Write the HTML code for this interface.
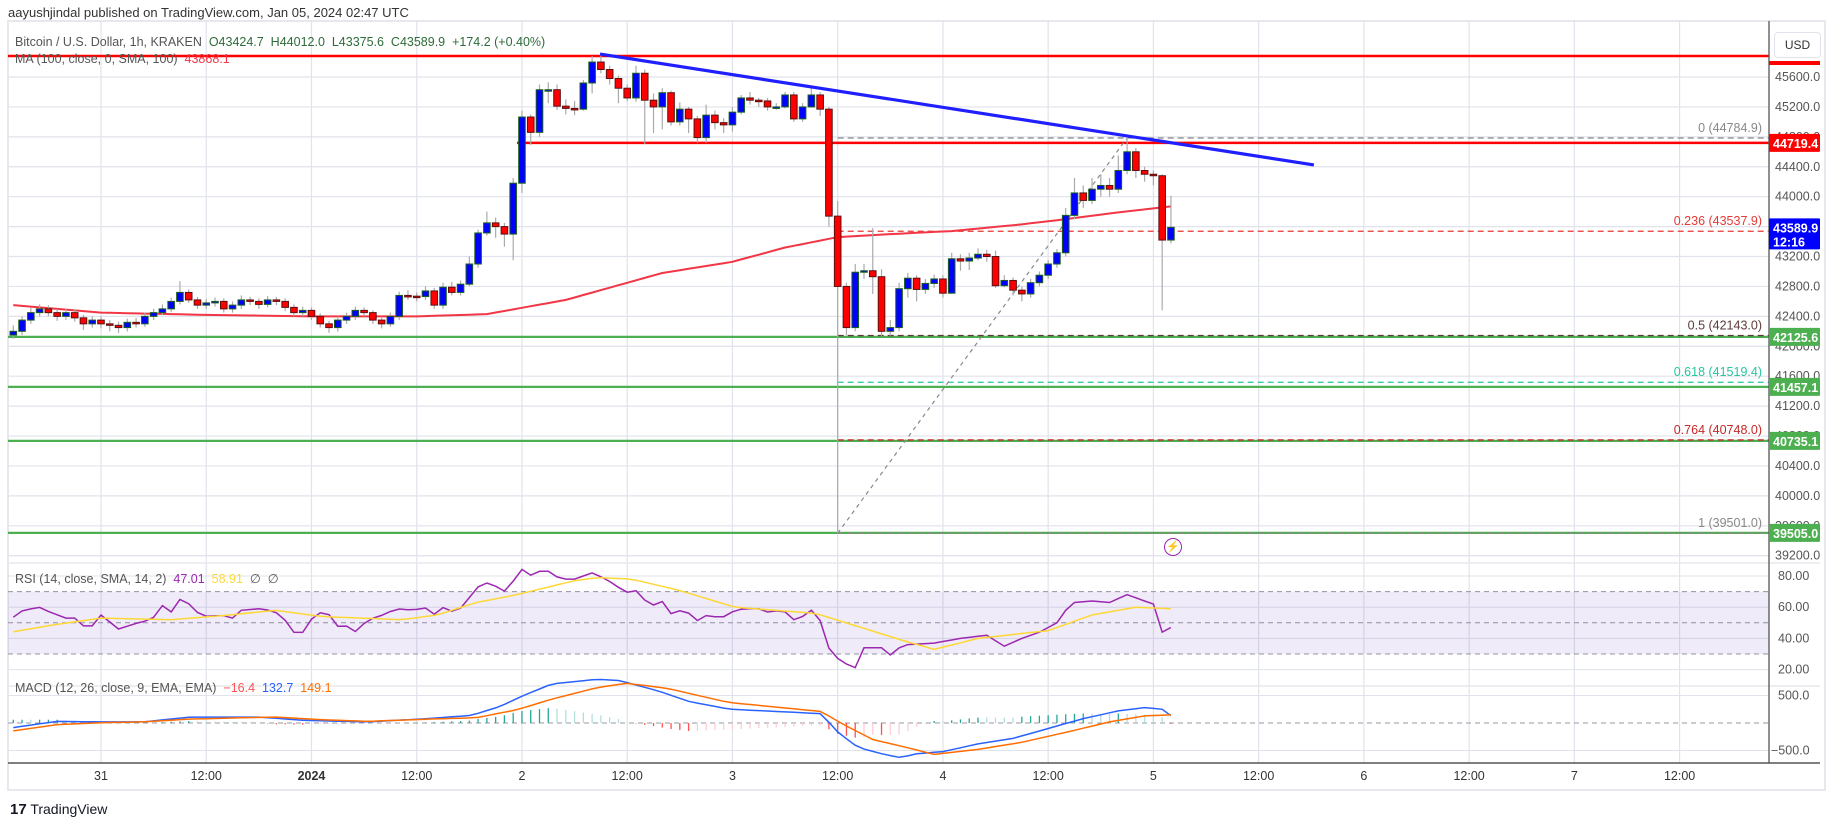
<!DOCTYPE html>
<html><head><meta charset="utf-8"><title>BTCUSD 1h chart</title>
<style>
html,body{margin:0;padding:0;background:#fff;}
body{width:1835px;height:827px;overflow:hidden;font-family:"Liberation Sans",sans-serif;}
svg text{font-family:"Liberation Sans",sans-serif;}
</style></head>
<body>
<svg id="chart" width="1835" height="827" viewBox="0 0 1835 827" xmlns="http://www.w3.org/2000/svg">
<rect x="0" y="0" width="1835" height="827" fill="#fff"/>
<text x="8" y="17" font-size="13" fill="#333">aayushjindal published on TradingView.com, Jan 05, 2024 02:47 UTC</text>
<rect x="8" y="21" width="1817" height="769" fill="none" stroke="#e6e8ee" stroke-width="2"/>
<g id="grid"></g>
<rect x="8" y="0" width="1761" height="0" id="rsiBand" fill="rgba(126,87,194,0.12)"/>
<g id="marks"></g>
<g id="axes"></g>
</svg>
<script>
// ---- data ----
const firstHour = -10; // hours relative to Dec 31 00:00
const firstOpen = 42150;
const closes = [
42200,42350,42450,42500,42450,42400,42450,42380,42300,42350,
42300,42280,42250,42320,42300,42400,42450,42500,42600,42720,
42620,42550,42580,42600,42500,42550,42620,42600,42560,42620,
42600,42520,42450,42480,42400,42300,42250,42350,42400,42480,
42450,42350,42300,42400,42680,42670,42665,42740,42550,42790,
42720,42830,43100,43515,43650,43600,43500,44180,45065,44860,
45430,45430,45210,45180,45170,45520,45800,45700,45580,45450,
45320,45650,45290,45200,45390,45000,45170,45040,44790,45090,
44990,44960,45130,45320,45290,45280,45200,45200,45360,45040,
45200,45360,45170,43740,42800,42250,42990,43010,42930,42200,
42250,42770,42910,42760,42840,42900,42710,43170,43140,43180,
43230,43200,42810,42880,42750,42700,42850,42950,43100,43250,
43750,44050,43950,44100,44150,44100,44350,44600,44350,44300,
44280,43420,43590];
const highs = [
42280,42400,42520,42560,42550,42500,42500,42490,42420,42400,
42400,42350,42330,42370,42380,42450,42500,42560,42650,42870,
42760,42660,42630,42650,42640,42600,42680,42660,42640,42670,
42660,42640,42560,42530,42520,42440,42340,42400,42450,42530,
42520,42480,42380,42450,42730,42750,42720,42800,42780,42850,
42860,42880,43200,43560,43800,43720,43650,44250,45150,45100,
45500,45530,45500,45300,45280,45560,45880,45900,45750,45620,
45500,45750,45700,45380,45450,45420,45260,45200,45080,45230,
45150,45050,45200,45360,45400,45320,45320,45250,45400,45400,
45250,45480,45400,45200,43940,42850,43100,43100,43580,43030,
42350,42850,42980,42950,42900,42960,42950,43250,43230,43250,
43310,43290,43280,42950,42920,42800,42900,43000,43150,43300,
43850,44250,44150,44250,44300,44250,44550,44785,44650,44400,
44350,44300,44012];
const lows = [
42100,42150,42300,42400,42400,42340,42350,42330,42220,42250,
42240,42200,42180,42200,42250,42260,42350,42420,42460,42560,
42580,42500,42500,42530,42450,42450,42500,42550,42500,42520,
42550,42470,42400,42400,42350,42250,42180,42200,42300,42350,
42400,42300,42240,42260,42350,42620,42600,42620,42500,42500,
42680,42680,42800,43050,43480,43450,43330,43150,44050,44690,
44800,45250,45160,45100,45090,45150,45380,45650,45500,45250,
45280,45270,44700,44850,44900,44950,44950,44850,44720,44720,
44900,44850,44870,45100,45230,45200,45150,45160,45180,45000,
45000,45190,45080,43600,39501,42150,42200,42900,42700,42130,
42140,42200,42650,42600,42700,42780,42650,42700,43010,43020,
43150,43130,42780,42790,42680,42600,42650,42800,42900,43050,
43200,43700,43850,43900,44000,44000,44050,44300,44250,44200,
44150,42480,43375];
const maHours = [-10,0,12,24,36,44,53,64,72,78,84,90,97,105,110,116,122];
const maValues = [42550,42450,42420,42400,42400,42430,42620,42980,43130,43320,43460,43500,43540,43630,43700,43790,43870];
const rsiHours = [-10.4,-8.9,-6.9,-5.9,-4,-3,-2,-1,0,2,4.2,5.8,7,8,9,10.1,11.1,12.1,13.7,15,16,18,19.3,20.6,21.9,22.9,24.2,25.2,26.1,27.1,28.1,29.1,30.4,31.7,33.7,35.6,36.9,37.9,38.9,40.2,41.2,42.5,43.5,44.5,46.1,48.1,49.1,50,51,52.4,54,56,57.6,59.2,60.2,61.2,62.2,63.2,64.1,65.1,66.1,67.1,68.1,69.1,70.7,72.3,73.3,75.3,76.3,77.6,79.2,81,81.8,83.1,84.4,86.1,87,89,90.1,91.2,92,95,98,101,103,105,107,109,110,111,113,115,117,118,120,121,122];
const rsiValues = [52,58,60,57,53,53,48,48,55,46,50,52,61,57,65,62,56,54,55,53,58,59,58,55,44,43,54,57,55,47,48,44,52,54,59,58,60,55,60,57,60,70,76,75,70,85,80,83,83,78,78,82,78,72,69,71,63,61,64,55,58,56,51,55,53,58,59,59,56,59,51,58,55,32,25,21,34,34,29,35,36,37,40,42,35,40,44,50,58,63,64,63,68,66,62,44,47];
const rsiMaHours = [-10.3,-5,0,8.1,14.7,19.9,25.2,34.3,38.3,42.8,47.4,54,56.6,60.5,65.8,72.3,81.5,86.7,91.2,95,100,108,113,118,122];
const rsiMaValues = [44,49,53,52,55,58,54,52,55,63,68,77,79,78,71,60,56,47,39,33,40,45,55,60,59];
const macdHours = [-10.3,-5,0,4.9,10.1,18,23.2,30.4,37.6,42.2,45.5,48.1,51.4,56.6,59.2,63.8,67.1,71.6,76.9,82.1,84.1,86.4,89.3,91.2,93,96,100,104,108,112,116,119,121,122];
const macdValues = [-90,30,20,20,108,108,48,20,84,138,300,494,710,795,770,570,390,253,210,170,-180,-450,-570,-630,-560,-520,-380,-280,-100,80,220,280,250,133];
const signalHours = [-10.3,-5,0,4.9,10.1,19.9,25.2,30.4,37.6,42.8,47.4,51.4,56.6,59.9,64.5,71.6,78.2,82.1,84.7,88,91.2,95,100,105,110,115,119,122];
const signalValues = [-150,-30,6,20,72,108,60,30,72,96,240,433,644,722,632,373,270,210,-30,-300,-420,-570,-480,-350,-170,20,130,149];
const priceTicks = [45600,45200,44800,44400,44000,43600,43200,42800,42400,42000,41600,41200,40800,40400,40000,39600,39200];
const timeLabels = ["31","12:00","2024","12:00","2","12:00","3","12:00","4","12:00","5","12:00","6","12:00","7","12:00"];
const timeLabelHours = [0,12,24,36,48,60,72,84,96,108,120,132,144,156,168,180];
const fibLevels = [0,0.236,0.5,0.618,0.764,1];
const fibPrices = [44784.9,43537.9,42143.0,41519.4,40748.0,39501.0];
const fibColors = ["#888","#e53935","#5d3a3a","#26c6a0","#c62828","#888"];
const hLineRed = [45880,44719.4];
const hLineGreen = [42125.6,41457.1,40735.1,39505.0];

// ---- scales ----
const NS="http://www.w3.org/2000/svg";
const PL=8, PR=1769;
const xH = h => 101 + h*8.77;
const yP = p => 77 + (45600-p)*0.0748;
const yR = v => 576 + (80-v)*1.56;
const yM = v => 723 - v*0.055;
function el(tag, attrs, parent, text){const e=document.createElementNS(NS,tag);for(const k in attrs)e.setAttribute(k,attrs[k]);if(text!==undefined)e.textContent=text;parent.appendChild(e);return e;}
function interp(hs, vs, h){ if(h<=hs[0])return vs[0]; for(let i=1;i<hs.length;i++){ if(h<=hs[i]){const t=(h-hs[i-1])/(hs[i]-hs[i-1]);return vs[i-1]+t*(vs[i]-vs[i-1]);} } return vs[vs.length-1]; }
const grid=document.getElementById('grid'), marks=document.getElementById('marks'), axes=document.getElementById('axes');

// grid
timeLabelHours.forEach(h=>{ const x=xH(h); const l=el('line',{x1:x,x2:x,y1:21,y2:763,stroke:'#e0e3eb','stroke-width':1.2},grid);

});
priceTicks.forEach(p=>{ const y=yP(p); const l=el('line',{x1:PL,x2:PR,y1:y,y2:y,stroke:'#e0e3eb','stroke-width':1.2},grid);

});
[80,60,40,20].forEach(v=>{const l=el('line',{x1:PL,x2:PR,y1:yR(v),y2:yR(v),stroke:'#e0e3eb'},grid);

});
[500,-500].forEach(v=>{const l=el('line',{x1:PL,x2:PR,y1:yM(v),y2:yM(v),stroke:'#e0e3eb'},grid);

});
// pane separators
[[563,'#e6e8ee'],[686,'#e6e8ee'],[763,'#555']].forEach(([y,c])=>{const l=el('line',{x1:PL,x2:PR+51,y1:y,y2:y,stroke:c,'stroke-width':1.5},grid);

});
// rsi band
const band=document.getElementById('rsiBand'); band.setAttribute('y',yR(70)); band.setAttribute('height',yR(30)-yR(70));
[70,50,30].forEach(v=>{const l=el('line',{x1:PL,x2:PR,y1:yR(v),y2:yR(v),stroke:'#9598a1','stroke-dasharray':'5 4','stroke-width':1},grid);

});
const z=el('line',{x1:PL,x2:PR,y1:yM(0),y2:yM(0),stroke:'#9598a1','stroke-dasharray':'5 4'},grid);



// horizontal lines
hLineRed.forEach((p,i)=>{const l=el('line',{x1:i==0?PL:517,x2:PR,y1:yP(p),y2:yP(p),stroke:'#ff0000','stroke-width':2.5},marks);

});
hLineGreen.forEach(p=>{const l=el('line',{x1:PL,x2:PR,y1:yP(p),y2:yP(p),stroke:'#4caf50','stroke-width':2.2},marks);

});
// fib
const fx=xH(84);
fibPrices.forEach((p,i)=>{const y=yP(p);
const l=el('line',{x1:fx,x2:PR,y1:y,y2:y,stroke:fibColors[i],'stroke-dasharray':'6 4','stroke-width':1.3},marks);


const t=el('text',{x:1762,y:y-6,'text-anchor':'end','font-size':12.5,fill:fibColors[i]},marks,fibLevels[i]+' ('+p.toFixed(1)+')');

});
const fd=el('line',{x1:fx,y1:yP(fibPrices[5]),x2:xH(117),y2:yP(fibPrices[0]),stroke:'#888','stroke-dasharray':'4 4','stroke-width':1.2},marks);



// MA line
let d='';
for(let h=firstHour;h<=122;h++){d+=(d?'L':'M')+xH(h).toFixed(1)+','+yP(interp(maHours,maValues,h)).toFixed(1);}
const ma=el('path',{d:d,fill:'none',stroke:'#f23645','stroke-width':2},marks);



// candles
closes.forEach((c,i)=>{const h=firstHour+i; const o=i?closes[i-1]:firstOpen; const x=xH(h);
const up=c>=o;
const w=el('line',{x1:x,x2:x,y1:yP(highs[i]),y2:yP(lows[i]),stroke:'#aaa','stroke-width':1.2},marks);


const top=yP(Math.max(o,c)), bh=Math.max(1.5,yP(Math.min(o,c))-top);
const b=el('rect',{x:x-3.3,y:top,width:6.6,height:bh,fill:up?'#0000ff':'#ff0000',stroke:up?'#1b5e20':'#5a1010','stroke-width':1},marks);

});

// trendline
const tl=el('line',{x1:xH(56.9),y1:yP(45907),x2:xH(138.3),y2:yP(44424),stroke:'#1f1fff','stroke-width':3.2},marks);



// RSI
let rd='';for(let h=firstHour;h<=122;h++){rd+=(rd?'L':'M')+xH(h).toFixed(1)+','+yR(interp(rsiHours,rsiValues,h)).toFixed(1);}
const rsi=el('path',{d:rd,fill:'none',stroke:'#9c27b0','stroke-width':1.5},marks);


let rm='';for(let h=firstHour;h<=122;h++){rm+=(rm?'L':'M')+xH(h).toFixed(1)+','+yR(interp(rsiMaHours,rsiMaValues,h)).toFixed(1);}
const rsm=el('path',{d:rm,fill:'none',stroke:'#fdd835','stroke-width':1.5},marks);



// MACD
let md='',sd='';
for(let h=firstHour;h<=122;h++){const m=interp(macdHours,macdValues,h), s=interp(signalHours,signalValues,h);
md+=(md?'L':'M')+xH(h).toFixed(1)+','+yM(m).toFixed(1);
sd+=(sd?'L':'M')+xH(h).toFixed(1)+','+yM(s).toFixed(1);
const hv=m-s, pm=interp(macdHours,macdValues,h-1)-interp(signalHours,signalValues,h-1);
const col=hv>=0?(hv>=pm?'#26a69a':'#b2dfdb'):(hv<=pm?'#ff5252':'#ffcdd2');
const hb=el('line',{x1:xH(h),x2:xH(h),y1:yM(0),y2:yM(hv),stroke:col,'stroke-width':1.3},marks);

}
const ml=el('path',{d:md,fill:'none',stroke:'#2962ff','stroke-width':1.5},marks);


const sl=el('path',{d:sd,fill:'none',stroke:'#ff6d00','stroke-width':1.5},marks);



// axes
const ax=el('line',{x1:PR,x2:PR,y1:21,y2:763,stroke:'#555','stroke-width':1.3},axes);


priceTicks.forEach(p=>{const t=el('text',{x:1775,y:yP(p)+4,'font-size':12.5,fill:'#555'},axes,p.toFixed(1));

});
[80,60,40,20].forEach(v=>{const t=el('text',{x:1778,y:yR(v)+4,'font-size':12.5,fill:'#555'},axes,v.toFixed(2));

});
[[500,'500.0',1778],[-500,'\u2212500.0',1771]].forEach(([v,s,x])=>{const t=el('text',{x:x,y:yM(v)+4,'font-size':12.5,fill:'#555'},axes,s);

});
timeLabels.forEach((s,i)=>{const t=el('text',{x:xH(timeLabelHours[i]),y:780,'text-anchor':'middle','font-size':12.5,fill:'#333','font-weight':s==='2024'?'bold':'normal'},axes,s);

});
// price badges
function badge(p,txt,col,h){const y=yP(p);const g=el('g',{},axes);


el('rect',{x:PR,y:y-9,width:51,height:h||18,fill:col,rx:1},g);
el('text',{x:1773,y:y+5,'font-size':12.5,'font-weight':'bold',fill:'#fff'},g,txt);return g;}
el('rect',{x:PR,y:61,width:51,height:4,fill:'#ff0000'},axes);
badge(44719.4,'44719.4','#ff0000');
badge(42125.6,'42125.6','#4caf50');
badge(41457.1,'41457.1','#4caf50');
badge(40735.1,'40735.1','#4caf50');
badge(39505.0,'39505.0','#4caf50');
const bb=badge(43589.9,'43589.9','#0000ff',31); el('text',{x:1773,y:yP(43589.9)+19,'font-size':12.5,'font-weight':'bold',fill:'#fff'},bb,'12:16');
</script>
<svg width="0" height="0" style="position:absolute"></svg>
<div style="position:absolute;left:0;top:0;width:1835px;height:827px;pointer-events:none;">
  <div style="position:absolute;left:1774px;top:32px;width:45px;height:24px;border:1px solid #e0e3eb;border-radius:4px;font-size:12px;color:#333;text-align:center;line-height:24px;background:#fff;">USD</div>
  <div style="position:absolute;left:15px;top:35px;font-size:12.5px;color:#555;white-space:nowrap;">Bitcoin / U.S. Dollar, 1h, KRAKEN&nbsp; <span style="color:#2e6b3a">O43424.7&nbsp; H44012.0&nbsp; L43375.6&nbsp; C43589.9&nbsp; +174.2 (+0.40%)</span></div>
  <div style="position:absolute;left:15px;top:52px;font-size:12.5px;color:#555;white-space:nowrap;">MA (100, close, 0, SMA, 100)&nbsp; <span style="color:#f23645">43868.1</span></div>
  <div style="position:absolute;left:15px;top:571px;font-size:12.5px;color:#555;white-space:nowrap;">RSI (14, close, SMA, 14, 2)&nbsp; <span style="color:#9c27b0">47.01</span>&nbsp; <span style="color:#fdd835">58.91</span>&nbsp; ∅&nbsp; ∅</div>
  <div style="position:absolute;left:15px;top:681px;font-size:12.5px;color:#555;white-space:nowrap;">MACD (12, 26, close, 9, EMA, EMA)&nbsp; <span style="color:#ff5252">−16.4</span>&nbsp; <span style="color:#2962ff">132.7</span>&nbsp; <span style="color:#ff6d00">149.1</span></div>
  <div style="position:absolute;left:1164px;top:538px;width:16px;height:16px;border:1.5px solid #9c27b0;border-radius:50%;color:#9c27b0;font-size:11px;text-align:center;line-height:16px;">⚡</div>
  <div style="position:absolute;left:10px;top:801px;font-size:14px;color:#131722;white-space:nowrap;"><b style="font-size:15px;">17</b> TradingView</div>
</div>
</body></html>
